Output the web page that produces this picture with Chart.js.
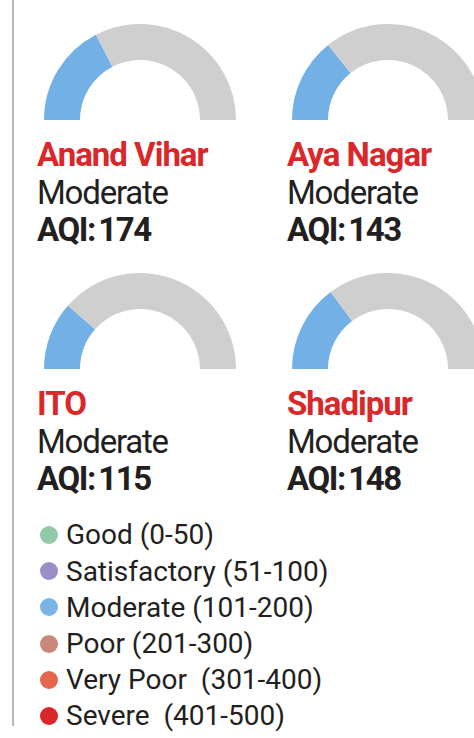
<!DOCTYPE html>
<html>
<head>
<meta charset="utf-8">
<script src="https://cdn.jsdelivr.net/npm/chart.js@4"></script>
<style>
  html, body { margin:0; padding:0; background:#fff; width:474px; height:738px; overflow:hidden; }
  body { position:relative; font-family:Roboto, "Open Sans", sans-serif; color:#231f20; }
  .rule { position:absolute; left:12px; top:0; width:2px; height:726px; background:#b8b8b8; }
  .gauge { position:absolute; width:192px; height:96px; }
  .txt { position:absolute; white-space:pre; }
  .big { font-size:33px; line-height:33px; }
  .name { color:#d9272a; font-weight:700; letter-spacing:-1px; }
  .cat { font-weight:400; letter-spacing:-1.2px; }
  .aqi { font-weight:700; letter-spacing:-1.4px; word-spacing:-3.5px; }
  .leg { font-size:28px; line-height:28px; font-weight:400; letter-spacing:0px; }
  .dot { position:absolute; width:18px; height:18px; border-radius:50%; }
</style>
</head>
<body>
<div class="rule"></div>

<script>
// ---- data ----
const stations = ["Anand Vihar", "Aya Nagar", "ITO", "Shadipur"];
const categories = ["Moderate", "Moderate", "Moderate", "Moderate"];
const aqiValues = [174, 143, 115, 148];
const aqiMax = 500;
const legendLabels = ["Good (0-50)", "Satisfactory (51-100)", "Moderate (101-200)", "Poor (201-300)", "Very Poor  (301-400)", "Severe  (401-500)"];
const legendColors = ["#93c9a9", "#9b8dc6", "#7ab4e6", "#c9887a", "#e5654f", "#d9272a"];

// ---- layout ----
const gaugeColor = "#72b0e6";
const restColor = "#cfcfcf";
const cells = [
  {gx:44, gy:24, tx:37, ty:138},
  {gx:292, gy:24, tx:287, ty:138},
  {gx:44, gy:273, tx:37, ty:387},
  {gx:292, gy:273, tx:287, ty:387}
];

stations.forEach((name, i) => {
  const c = cells[i];
  const box = document.createElement('div');
  box.className = 'gauge';
  box.style.left = c.gx + 'px';
  box.style.top = c.gy + 'px';
  const cv = document.createElement('canvas');
  box.appendChild(cv);
  document.body.appendChild(box);

  new Chart(cv, {
    type: 'doughnut',
    data: {
      labels: ['AQI', 'Remaining'],
      datasets: [{
        data: [aqiValues[i], aqiMax - aqiValues[i]],
        backgroundColor: [gaugeColor, restColor],
        borderWidth: 0,
        hoverOffset: 0
      }]
    },
    options: {
      responsive: true,
      maintainAspectRatio: false,
      animation: false,
      rotation: -90,
      circumference: 180,
      cutout: '62.5%',
      layout: { padding: 0 },
      plugins: { legend: { display: false }, tooltip: { enabled: false } },
      events: []
    }
  });

  const lines = [
    {cls:'name', text:name, dy:0},
    {cls:'cat', text:categories[i], dy:38},
    {cls:'aqi', text:'AQI: ' + aqiValues[i], dy:75}
  ];
  lines.forEach(l => {
    const d = document.createElement('div');
    d.className = 'txt big ' + l.cls;
    d.textContent = l.text;
    d.style.left = c.tx + 'px';
    d.style.top = (c.ty + l.dy) + 'px';
    document.body.appendChild(d);
  });
});

// legend
const legendTop = 535, legendStep = 36.2;
legendLabels.forEach((lab, i) => {
  const cy = legendTop + i * legendStep;
  const dot = document.createElement('div');
  dot.className = 'dot';
  dot.style.left = '40px';
  dot.style.top = (cy - 9) + 'px';
  dot.style.background = legendColors[i];
  document.body.appendChild(dot);
  const t = document.createElement('div');
  t.className = 'txt leg';
  t.textContent = lab;
  t.style.left = '66px';
  t.style.top = (cy - 13.6) + 'px';
  document.body.appendChild(t);
});
</script>
</body>
</html>
